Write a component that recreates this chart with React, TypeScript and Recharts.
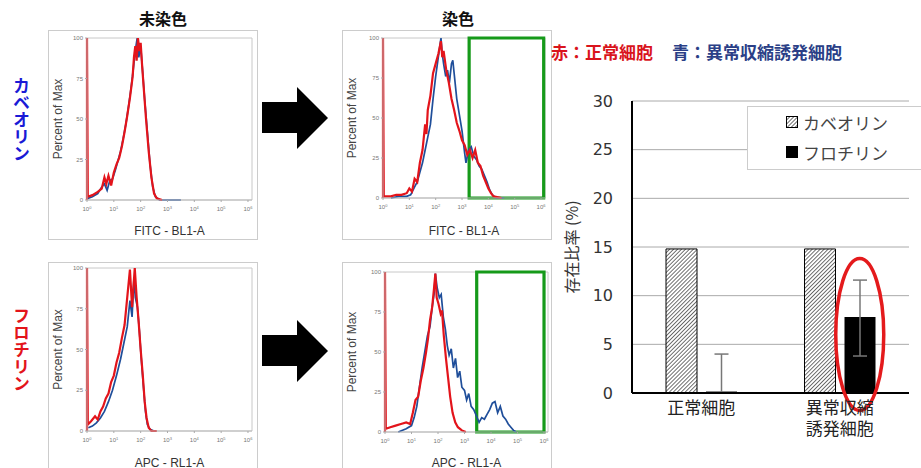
import React from 'react';
import {
  LineChart, Line, XAxis, YAxis, ReferenceArea,
  BarChart, Bar, CartesianGrid, ErrorBar, Legend, ReferenceDot,
} from 'recharts';

const cjk = "'Noto Sans CJK JP', 'Noto Sans', sans-serif";
const latin = "'Liberation Sans', Arial, sans-serif";

// histogram traces: [log decade, percent of max]
const cavNegRed: [number, number][] = [
  [0, 0], [0, 100], [0.03, 2], [0.2, 3], [0.4, 5], [0.55, 7], [0.65, 14], [0.72, 10], [0.8, 15], [0.9, 9],
  [1.0, 17], [1.1, 22], [1.2, 26], [1.3, 33], [1.4, 42], [1.5, 52], [1.6, 63], [1.7, 76], [1.75, 88], [1.8, 95],
  [1.85, 86], [1.9, 100], [1.95, 92], [2.0, 97], [2.05, 84], [2.12, 68], [2.2, 50], [2.3, 30], [2.4, 14],
  [2.5, 4], [2.6, 1], [2.8, 0],
];
const cavNegBlue: [number, number][] = [
  [0.03, 1], [0.2, 2], [0.4, 4], [0.55, 8], [0.65, 10], [0.75, 6], [0.85, 12], [0.95, 13], [1.05, 18],
  [1.15, 24], [1.25, 30], [1.35, 38], [1.45, 47], [1.55, 58], [1.65, 70], [1.72, 80], [1.8, 92], [1.87, 100],
  [1.93, 88], [2.0, 95], [2.07, 80], [2.15, 62], [2.25, 42], [2.35, 22], [2.45, 8], [2.55, 2], [2.7, 0], [3.5, 0],
];
const cavPosRed: [number, number][] = [
  [0, 0], [0, 100], [0.03, 1], [0.3, 1], [0.5, 2], [0.7, 2], [0.9, 3], [1.0, 6], [1.1, 4], [1.2, 12], [1.3, 10],
  [1.4, 22], [1.5, 30], [1.6, 46], [1.65, 40], [1.7, 55], [1.8, 64], [1.9, 78], [2.0, 84], [2.1, 90], [2.2, 98],
  [2.25, 88], [2.3, 92], [2.4, 80], [2.5, 72], [2.6, 62], [2.7, 55], [2.8, 47], [2.9, 42], [3.0, 36], [3.1, 33],
  [3.2, 27], [3.3, 30], [3.4, 25], [3.5, 30], [3.6, 22], [3.7, 20], [3.8, 14], [3.9, 10], [4.0, 6], [4.1, 3],
  [4.2, 1], [4.5, 0],
];
const cavPosBlue: [number, number][] = [
  [0.3, 0], [0.6, 1], [0.9, 1], [1.05, 2], [1.2, 7], [1.3, 10], [1.4, 16], [1.5, 22], [1.6, 30], [1.7, 38],
  [1.8, 46], [1.9, 62], [2.0, 76], [2.1, 88], [2.15, 94], [2.2, 100], [2.25, 90], [2.3, 84], [2.38, 76],
  [2.45, 80], [2.52, 72], [2.6, 84], [2.65, 86], [2.7, 78], [2.8, 62], [2.9, 52], [3.0, 42], [3.1, 28],
  [3.15, 22], [3.25, 30], [3.35, 32], [3.45, 26], [3.55, 24], [3.65, 20], [3.75, 18], [3.85, 14], [3.95, 10],
  [4.05, 5], [4.15, 2], [4.3, 0], [4.6, 0],
];
const floNegRed: [number, number][] = [
  [0, 0], [0, 100], [0.03, 4], [0.15, 6], [0.3, 9], [0.4, 7], [0.5, 12], [0.6, 15], [0.7, 20], [0.8, 23],
  [0.9, 30], [1.0, 34], [1.1, 42], [1.2, 48], [1.3, 57], [1.4, 65], [1.5, 82], [1.6, 99], [1.68, 76],
  [1.78, 100], [1.85, 82], [1.92, 68], [2.0, 50], [2.08, 34], [2.15, 18], [2.22, 8], [2.3, 2], [2.4, 0], [2.6, 0],
];
const floNegBlue: [number, number][] = [
  [0.05, 2], [0.2, 3], [0.35, 5], [0.5, 8], [0.65, 12], [0.8, 18], [0.95, 25], [1.1, 34], [1.25, 44],
  [1.4, 56], [1.5, 64], [1.6, 80], [1.68, 70], [1.75, 94], [1.8, 82], [1.88, 76], [1.95, 62], [2.02, 45],
  [2.1, 28], [2.18, 12], [2.25, 4], [2.35, 1], [2.5, 0],
];
const floPosRed: [number, number][] = [
  [0, 0], [0, 100], [0.03, 2], [0.2, 3], [0.4, 4], [0.6, 5], [0.8, 6], [0.95, 5], [1.05, 12], [1.15, 20],
  [1.25, 22], [1.35, 32], [1.45, 40], [1.55, 50], [1.62, 58], [1.7, 70], [1.78, 78], [1.85, 90], [1.9, 99],
  [1.95, 84], [2.02, 80], [2.1, 74], [2.15, 76], [2.22, 60], [2.3, 46], [2.38, 34], [2.46, 22], [2.55, 12],
  [2.65, 6], [2.75, 3], [2.9, 1], [3.05, 0],
];
const floPosBlue: [number, number][] = [
  [0.5, 0], [0.8, 2], [1.0, 4], [1.1, 9], [1.2, 16], [1.3, 28], [1.4, 40], [1.5, 50], [1.6, 60], [1.7, 66],
  [1.78, 78], [1.85, 86], [1.9, 99], [1.97, 90], [2.05, 84], [2.12, 86], [2.2, 72], [2.28, 64], [2.35, 54],
  [2.42, 48], [2.5, 52], [2.58, 40], [2.66, 46], [2.74, 34], [2.82, 38], [2.9, 28], [3.0, 26], [3.08, 20],
  [3.16, 24], [3.25, 16], [3.35, 14], [3.45, 10], [3.55, 6], [3.65, 9], [3.75, 8], [3.85, 11], [3.95, 14],
  [4.05, 18], [4.15, 19], [4.25, 12], [4.35, 16], [4.45, 10], [4.55, 8], [4.65, 5], [4.75, 3], [4.85, 1],
  [4.95, 0],
];

const decadeTicks = [0, 1, 2, 3, 4, 5, 6];
const percentTicks = [0, 25, 50, 75, 100];

// bar chart
const barCategories = ['正常細胞', '異常収縮誘発細胞'];
const categoryLines = [['正常細胞'], ['異常収縮', '誘発細胞']];
const caveolinValues = [14.8, 14.8];
const flotillinValues = [0.15, 7.8];
const flotillinErrors: [number, number][] = [[0.15, 3.85], [4.0, 3.8]];
const ratioTicks = [0, 5, 10, 15, 20, 25, 30];

const RED = '#e3141b';
const BLUE = '#1f4e9a';
const GREEN = '#169a1a';

const toPts = (arr: [number, number][]) => arr.map(([x, y]) => ({ x, y }));

const PowTick = (props: any) => {
  const { x, y, payload } = props;
  return (
    <text x={x} y={y + 7} textAnchor="middle" fontSize={6} fill="#777" fontFamily={latin}>
      10<tspan dy={-2.5} fontSize={4}>{payload.value}</tspan>
    </text>
  );
};

interface HistProps {
  left: number; top: number;
  ml: number; mr: number; mt: number; mb: number;
  red: [number, number][]; blue: [number, number][];
  xLabel: string;
  gate?: [number, number];
}

function HistPanel({ left, top, ml, mr, mt, mb, red, blue, xLabel, gate }: HistProps) {
  return (
    <div style={{ position: 'absolute', left, top, width: 210, height: 210, border: '1px solid #ccc', boxSizing: 'border-box', background: '#fff' }}>
      <div style={{ position: 'absolute', left: -1, top: -1 }}>
        <LineChart width={210} height={210} margin={{ top: mt, right: mr, left: 0, bottom: 0 }}>
          <XAxis type="number" dataKey="x" domain={[0, 6.15]} ticks={decadeTicks} height={mb}
            axisLine={{ stroke: '#bbb' }} tickLine={{ stroke: '#aaa' }} tickSize={2} tick={<PowTick />}
            label={{ value: xLabel, position: 'insideBottom', offset: 5, fontSize: 12, fill: '#333', fontFamily: latin }} />
          <YAxis type="number" domain={[0, 100]} ticks={percentTicks} width={ml}
            axisLine={{ stroke: '#bbb' }} tickLine={{ stroke: '#aaa' }} tickSize={2}
            tick={{ fontSize: 6, fill: '#777', fontFamily: latin }}
            label={{ value: 'Percent of Max', angle: -90, position: 'insideLeft', offset: 10, fontSize: 12, fill: '#444', fontFamily: latin, style: { textAnchor: 'middle' } }} />
          <ReferenceArea x1={0} x2={6.15} y1={0} y2={100} fill="none" stroke="#c8c8c8" strokeWidth={1} />
          <Line data={toPts(blue)} dataKey="y" type="linear" stroke={BLUE} strokeWidth={1.7} dot={false} isAnimationActive={false} />
          <Line data={toPts(red)} dataKey="y" type="linear" stroke={RED} strokeWidth={2.2} dot={false} isAnimationActive={false} />
          {gate && (
            <ReferenceArea x1={gate[0]} x2={gate[1]} y1={0} y2={100} fill="none" stroke={GREEN} strokeWidth={3.2} />
          )}
        </LineChart>
      </div>
    </div>
  );
}

const CategoryTick = (props: any) => {
  const { x, y, payload } = props;
  const lines = categoryLines[payload.index] || [payload.value];
  return (
    <text x={x} y={y + 13} textAnchor="middle" fontSize={17} fill="#222" fontFamily={cjk}>
      {lines.map((l: string, i: number) => (
        <tspan key={i} x={x} dy={i === 0 ? 0 : 21}>{l}</tspan>
      ))}
    </text>
  );
};

const legendItems = [
  { label: 'カベオリン', fill: 'url(#hatchLegend)' },
  { label: 'フロチリン', fill: '#000' },
];

const LegendBox = () => (
  <div style={{ width: 180, height: 64, border: '1px solid #ccc', boxSizing: 'border-box', background: '#fff', paddingLeft: 38, paddingTop: 0, fontFamily: cjk, fontSize: 17, color: '#444' }}>
    {legendItems.map((it) => (
      <div key={it.label} style={{ height: 30, display: 'flex', alignItems: 'center' }}>
        <svg width={12} height={12} style={{ marginRight: 5 }}>
          <defs>
            <pattern id="hatchLegend" width="2.8" height="2.8" patternUnits="userSpaceOnUse" patternTransform="rotate(45)">
              <rect width="2.8" height="2.8" fill="#fff" />
              <line x1="0" y1="0" x2="0" y2="2.8" stroke="#333" strokeWidth="1.4" />
            </pattern>
          </defs>
          <rect x={0.5} y={0.5} width={11} height={11} fill={it.fill} stroke="#000" strokeWidth={1} />
        </svg>
        <span>{it.label}</span>
      </div>
    ))}
  </div>
);

const Arrow = ({ top }: { top: number }) => (
  <svg style={{ position: 'absolute', left: 258, top: top - 35 }} width={75} height={70}>
    <polygon points="4,19 39,19 39,4 70,35 39,66 39,50 4,50" fill="#000" />
  </svg>
);

const barData = barCategories.map((name, i) => ({
  name,
  cav: caveolinValues[i],
  flo: flotillinValues[i],
  err: flotillinErrors[i],
}));

export default function App() {
  return (
    <div style={{ position: 'absolute', left: 0, top: 0, width: 921, height: 468, overflow: 'hidden', background: '#fff' }}>
      <div style={{ position: 'absolute', left: 113, top: 6, width: 100, textAlign: 'center', fontFamily: cjk, fontWeight: 700, fontSize: 16, color: '#111' }}>未染色</div>
      <div style={{ position: 'absolute', left: 408, top: 6, width: 100, textAlign: 'center', fontFamily: cjk, fontWeight: 700, fontSize: 16, color: '#111' }}>染色</div>

      <div style={{ position: 'absolute', left: 9, top: 77, writingMode: 'vertical-rl', fontFamily: cjk, fontWeight: 700, fontSize: 17, color: '#1a1ad6' }}>カベオリン</div>
      <div style={{ position: 'absolute', left: 9, top: 307, writingMode: 'vertical-rl', fontFamily: cjk, fontWeight: 700, fontSize: 17, color: RED }}>フロチリン</div>

      <HistPanel left={48} top={30} ml={39} mr={6} mt={8} mb={40} red={cavNegRed} blue={cavNegBlue} xLabel="FITC - BL1-A" />
      <HistPanel left={342} top={30} ml={41} mr={7} mt={8} mb={42} red={cavPosRed} blue={cavPosBlue} xLabel="FITC - BL1-A" gate={[3.27, 6.1]} />
      <HistPanel left={48} top={262} ml={39} mr={6} mt={6} mb={41} red={floNegRed} blue={floNegBlue} xLabel="APC - RL1-A" />
      <HistPanel left={342} top={262} ml={43} mr={4} mt={10} mb={40} red={floPosRed} blue={floPosBlue} xLabel="APC - RL1-A" gate={[3.46, 6.0]} />

      <Arrow top={118} />
      <Arrow top={351} />

      <div style={{ position: 'absolute', left: 551, top: 39, fontFamily: cjk, fontWeight: 700, fontSize: 17, whiteSpace: 'nowrap' }}>
        <span style={{ color: '#d9141c' }}>赤：正常細胞</span>
        <span style={{ color: '#2b3f87', marginLeft: 19 }}>青：異常収縮誘発細胞</span>
      </div>

      <div style={{ position: 'absolute', left: 560, top: 85 }}>
        <BarChart width={361} height={383} data={barData} margin={{ top: 16, right: 12, left: 0, bottom: 0 }} barSize={31} barGap={9}>
          <defs>
            <pattern id="hatch" width="2.8" height="2.8" patternUnits="userSpaceOnUse" patternTransform="rotate(45)">
              <rect width="2.8" height="2.8" fill="#fff" />
              <line x1="0" y1="0" x2="0" y2="2.8" stroke="#333" strokeWidth="1.4" />
            </pattern>
          </defs>
          <CartesianGrid vertical={false} stroke="#aaa" />
          <XAxis dataKey="name" height={75} interval={0} axisLine={{ stroke: '#000', strokeWidth: 2 }} tickLine={false} tick={<CategoryTick />} />
          <YAxis type="number" domain={[0, 30]} ticks={ratioTicks} width={72} interval={0}
            axisLine={{ stroke: '#000', strokeWidth: 2 }} tickLine={false} tickMargin={13}
            tick={{ fontSize: 16, fill: '#333', fontFamily: "'DejaVu Sans', sans-serif" }}
            label={{ value: '存在比率 (%)', angle: -90, position: 'insideLeft', offset: 12, fontSize: 16, fill: '#333', fontFamily: cjk, style: { textAnchor: 'middle' } }} />
          <Bar dataKey="cav" fill="url(#hatch)" stroke="#000" strokeWidth={1} isAnimationActive={false} />
          <Bar dataKey="flo" fill="#000" isAnimationActive={false}>
            <ErrorBar dataKey="err" direction="y" width={7} stroke="#777" strokeWidth={1.5} />
          </Bar>
          <ReferenceDot x={barCategories[1]} y={6} r={0}
            shape={(p: any) => (
              <ellipse cx={p.cx + 20} cy={p.cy} rx={24} ry={76} fill="none" stroke="#e41a1c" strokeWidth={3.5} />
            )} />
          <Legend layout="vertical" verticalAlign="middle" align="center" content={<LegendBox />}
            wrapperStyle={{ left: 187, top: 21, width: 180 }} />
        </BarChart>
      </div>
    </div>
  );
}
